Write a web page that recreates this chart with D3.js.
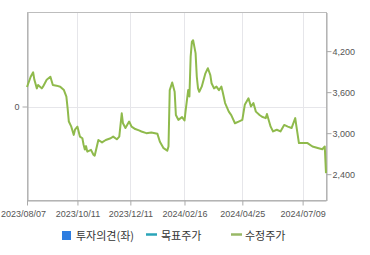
<!DOCTYPE html>
<html>
<head>
<meta charset="utf-8">
<script src="https://cdn.jsdelivr.net/npm/d3@7"></script>
<style>
  body { margin: 0; background: #fff; }
  svg { display: block; font-family: "Liberation Sans", Arial, sans-serif; }
</style>
</head>
<body>
<svg id="chart" width="370" height="255"></svg>
<script>
// trading-day index (0 = 2023/08/07) and adjusted price
const days = [0, 3, 5, 6, 8, 9, 12, 13, 16, 19, 21, 24, 27, 30, 32, 33, 34, 36, 38, 39,
  41, 43, 45, 46, 47, 48, 49, 52, 54, 55, 58, 61, 64, 68, 70, 73, 75, 77, 78, 80,
  83, 85, 88, 91, 93, 97, 101, 106, 108, 111, 114, 115, 116, 118, 120, 121, 123, 126, 128, 129,
  131, 132, 133, 134, 135, 137, 138, 139, 140, 142, 145, 147, 149, 150, 152, 154, 156, 158, 159, 161,
  164, 166, 169, 172, 175, 177, 180, 182, 184, 186, 189, 191, 194, 195, 198, 200, 203, 206, 209, 212,
  215, 218, 219, 221, 224, 228, 232, 237, 240, 242, 243];
const prices = [3675, 3825, 3890, 3780, 3655, 3705, 3655, 3680, 3780, 3825, 3705, 3695, 3680, 3630, 3535, 3365, 3170, 3095, 2975, 3050,
  3095, 2950, 2925, 2830, 2760, 2810, 2730, 2755, 2685, 2670, 2900, 2865, 2900, 2925, 2950, 2910, 2950, 3290, 3145, 3075,
  3170, 3095, 3060, 3040, 3025, 3000, 3010, 2990, 2875, 2780, 2745, 2805, 3630, 3740, 3605, 3265, 3195, 3235, 3185, 3340,
  3630, 3535, 4120, 4335, 4360, 4170, 3825, 3655, 3605, 3680, 3875, 3950, 3850, 3730, 3655, 3680, 3630, 3680, 3605, 3440,
  3315, 3265, 3145, 3170, 3195, 3415, 3510, 3390, 3440, 3315, 3265, 3240, 3220, 3280, 3095, 3025, 3050, 3025, 3120, 3095,
  3075, 3220, 3095, 2855, 2855, 2855, 2805, 2780, 2765, 2805, 2415];

const tickDays = [0, 41, 84, 128, 175, 224];
const tickLabels = ['2023/08/07', '2023/10/11', '2023/12/11', '2024/02/16', '2024/04/25', '2024/07/09'];
const priceTicks = [2400, 3000, 3600, 4200];
const legendNames = ['투자의견(좌)', '목표주가', '수정주가'];

const plotL = 27, plotR = 326, plotT = 12.5, plotB = 200.5;
const svg = d3.select('#chart');

const x = d3.scaleLinear().domain([0, 243]).range([plotL, plotR]);
const y = d3.scaleLinear().domain([2015, 4765]).range([plotB, plotT]);
const yLeft = d3.scaleLinear().domain([-1, 1]).range([plotB, plotT]);

// grid
svg.append('g')
    .selectAll('line')
    .data(tickDays.slice(1))
    .enter().append('line')
    .attr('x1', d => Math.round(x(d)) + 0.5)
    .attr('x2', d => Math.round(x(d)) + 0.5)
    .attr('y1', plotT)
    .attr('y2', plotB)
    .attr('stroke', '#e6e6ea');

svg.append('line')
    .attr('x1', plotL).attr('x2', plotR)
    .attr('y1', Math.round(yLeft(0)) + 0.5).attr('y2', Math.round(yLeft(0)) + 0.5)
    .attr('stroke', '#e6e6ea');

// frame
svg.append('rect')
    .attr('x', plotL + 0.5).attr('y', plotT)
    .attr('width', plotR - plotL).attr('height', plotB - plotT)
    .attr('fill', 'none').attr('stroke', '#bdbdbd');

// axes
const xAxis = d3.axisBottom(x)
    .tickValues(tickDays)
    .tickFormat((d, i) => tickLabels[i])
    .tickSize(5)
    .tickSizeOuter(0);
const gx = svg.append('g')
    .attr('transform', 'translate(0,' + plotB + ')')
    .call(xAxis);

const yAxis = d3.axisRight(y)
    .tickValues(priceTicks)
    .tickFormat(d3.format(','))
    .tickSize(5)
    .tickSizeOuter(0);
const gy = svg.append('g')
    .attr('transform', 'translate(' + (plotR + 0.5) + ',0)')
    .call(yAxis);

const yAxisL = d3.axisLeft(yLeft)
    .tickValues([0])
    .tickFormat(d3.format('d'))
    .tickSize(5)
    .tickSizeOuter(0);
const gyl = svg.append('g')
    .attr('transform', 'translate(' + (plotL + 0.5) + ',0)')
    .call(yAxisL);

[gx, gy, gyl].forEach(g => {
    g.select('.domain').attr('stroke', '#aaaaaa');
    g.selectAll('.tick line').attr('stroke', '#aaaaaa');
    g.selectAll('.tick text')
        .attr('fill', '#555')
        .attr('font-size', 9)
        .attr('font-family', '"Liberation Sans", Arial, sans-serif');
});
gx.selectAll('.tick text').attr('dy', '0.9em');
// first date label sits a bit left of its tick (clipped at the edge)
gx.selectAll('.tick text').filter((d, i) => i === 0).attr('x', -4);
gy.selectAll('.tick text').attr('x', 6);
gyl.selectAll('.tick text').attr('x', -8);

// price line
const line = d3.line()
    .x((d, i) => x(days[i]))
    .y(d => y(d));

svg.append('path')
    .datum(prices)
    .attr('d', line)
    .attr('fill', 'none')
    .attr('stroke', '#8fba4c')
    .attr('stroke-width', 2)
    .attr('stroke-linejoin', 'round');

// legend
const lg = svg.append('g').attr('font-family', '"Noto Sans CJK KR", sans-serif').attr('font-size', 11);
lg.append('rect').attr('x', 62).attr('y', 231).attr('width', 9).attr('height', 9).attr('fill', '#2e7de0');
lg.append('text').attr('x', 76).attr('y', 239.5).attr('fill', '#333').text(legendNames[0]);
lg.append('line').attr('x1', 146).attr('x2', 157).attr('y1', 234.5).attr('y2', 234.5)
    .attr('stroke', '#2aa4b8').attr('stroke-width', 2.5);
lg.append('text').attr('x', 161).attr('y', 239.5).attr('fill', '#333').text(legendNames[1]);
lg.append('line').attr('x1', 231).attr('x2', 242).attr('y1', 234.5).attr('y2', 234.5)
    .attr('stroke', '#99b866').attr('stroke-width', 2.5);
lg.append('text').attr('x', 245).attr('y', 239.5).attr('fill', '#333').text(legendNames[2]);
</script>
</body>
</html>
